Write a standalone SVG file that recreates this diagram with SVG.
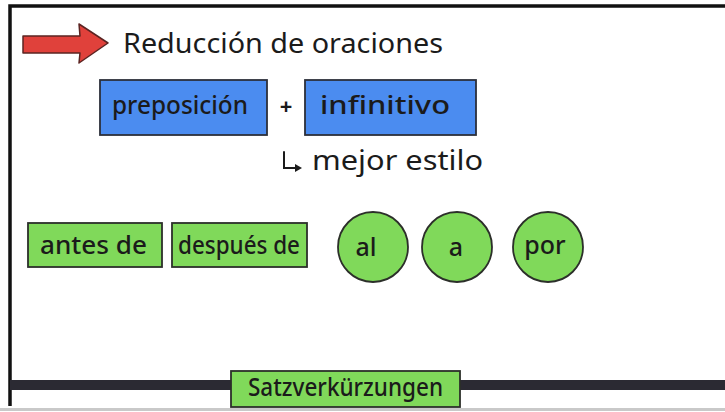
<svg xmlns="http://www.w3.org/2000/svg" width="725" height="412" viewBox="0 0 725 412">
<style>
.t{font-family:"Noto Sans","DejaVu Sans",sans-serif;fill:#1b1b1b;}
.hand{font-size:28px;}
.lbl{font-size:25px;font-weight:500;}
.blue{fill:#4b8cf0;stroke:#2c2f3a;stroke-width:1.8;}
.green{fill:#80d95a;stroke:#2c2f2a;stroke-width:1.8;}
.frame{fill:none;stroke:#111;stroke-width:3.5;}
.bar{fill:#2b2a33;}
</style>
<rect x="0" y="0" width="725" height="412" fill="#ffffff"/>
<line x1="725" y1="409.5" x2="0" y2="409.5" stroke="#c9c9c9" stroke-width="3"/>
<path class="frame" d="M725 6 H10 V406"/>
<rect class="bar" x="10" y="380" width="222" height="10"/>
<rect class="bar" x="459" y="380" width="266" height="10"/>

<g id="title">
<polygon points="23,36 80,36 79,24 108,43 79,63 80,53 23,53" fill="#e0413b" stroke="#5b2422" stroke-width="1.5" stroke-linejoin="round"/>
<text class="t hand" x="123" y="53" textLength="320" lengthAdjust="spacingAndGlyphs">Reducción de oraciones</text>
</g>

<g id="preposicion">
<rect class="blue" x="100" y="80" width="167" height="55"/>
<text class="t lbl" x="112" y="114" textLength="136" lengthAdjust="spacingAndGlyphs">preposición</text>
</g>
<g id="plus">
<text class="t" x="286" y="114" font-size="22" font-weight="700" text-anchor="middle">+</text>
</g>
<g id="infinitivo">
<rect class="blue" x="305" y="80" width="171" height="55"/>
<text class="t lbl" x="320" y="114" textLength="130" lengthAdjust="spacingAndGlyphs">infinitivo</text>
</g>

<g id="connectors">
<path d="M284 152 V168 H296" fill="none" stroke="#1b1b1b" stroke-width="2" stroke-linecap="round"/>
<polygon points="295,164 302,168 295,172" fill="#1b1b1b"/>
</g>

<g id="estilo">
<text class="t hand" x="312" y="170" font-size="24" textLength="171" lengthAdjust="spacingAndGlyphs">mejor estilo</text>
</g>

<g id="antes-de">
<rect class="green" x="28" y="223" width="134" height="44"/>
<text class="t lbl" x="40" y="254" font-size="23" textLength="107" lengthAdjust="spacingAndGlyphs">antes de</text>
</g>
<g id="despues-de">
<rect class="green" x="172" y="223" width="135" height="44"/>
<text class="t lbl" x="178" y="254" font-size="23" textLength="122" lengthAdjust="spacingAndGlyphs">después de</text>
</g>
<g id="al">
<circle class="green" cx="373" cy="247" r="35"/>
<text class="t lbl" x="366" y="256" font-size="29" text-anchor="middle">al</text>
</g>
<g id="a">
<circle class="green" cx="457" cy="247" r="35"/>
<text class="t lbl" x="456" y="256" font-size="29" text-anchor="middle">a</text>
</g>
<g id="por">
<circle class="green" cx="548" cy="247" r="35"/>
<text class="t lbl" x="545" y="254" font-size="27" text-anchor="middle">por</text>
</g>

<g id="satzverkuerzungen">
<rect class="green" x="231" y="371" width="229" height="36"/>
<text class="t lbl" x="248" y="396" font-size="24" textLength="195" lengthAdjust="spacingAndGlyphs">Satzverkürzungen</text>
</g>
</svg>
